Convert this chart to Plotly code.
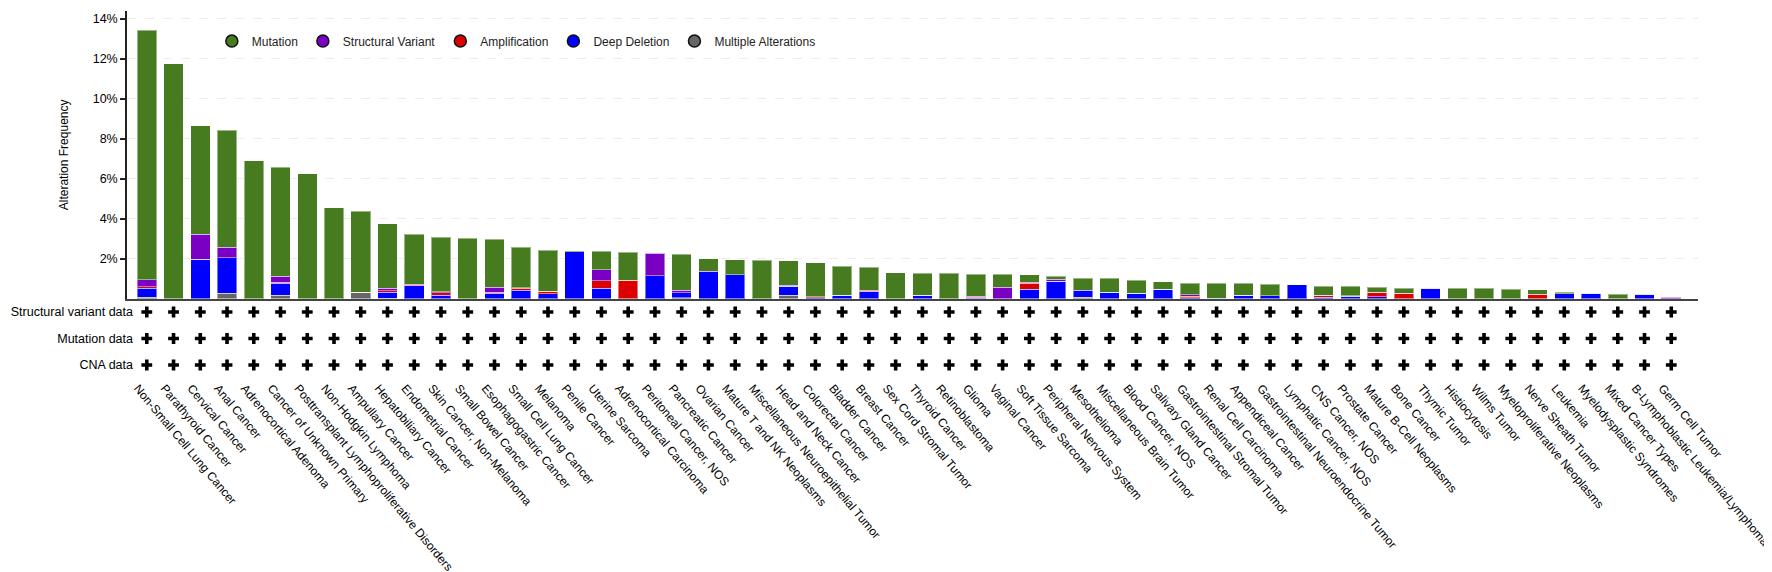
import plotly.graph_objects as go

cancer_types = [
    "Non-Small Cell Lung Cancer", "Parathyroid Cancer", "Cervical Cancer", "Anal Cancer",
    "Adrenocortical Adenoma", "Cancer of Unknown Primary",
    "Posttransplant Lymphoproliferative Disorders", "Non-Hodgkin Lymphoma",
    "Ampullary Cancer", "Hepatobiliary Cancer", "Endometrial Cancer",
    "Skin Cancer, Non-Melanoma", "Small Bowel Cancer", "Esophagogastric Cancer",
    "Small Cell Lung Cancer", "Melanoma", "Penile Cancer", "Uterine Sarcoma",
    "Adrenocortical Carcinoma", "Peritoneal Cancer, NOS", "Pancreatic Cancer",
    "Ovarian Cancer", "Mature T and NK Neoplasms", "Miscellaneous Neuroepithelial Tumor",
    "Head and Neck Cancer", "Colorectal Cancer", "Bladder Cancer", "Breast Cancer",
    "Sex Cord Stromal Tumor", "Thyroid Cancer", "Retinoblastoma", "Glioma",
    "Vaginal Cancer", "Soft Tissue Sarcoma", "Peripheral Nervous System",
    "Mesothelioma", "Miscellaneous Brain Tumor", "Blood Cancer, NOS",
    "Salivary Gland Cancer", "Gastrointestinal Stromal Tumor", "Renal Cell Carcinoma",
    "Appendiceal Cancer", "Gastrointestinal Neuroendocrine Tumor",
    "Lymphatic Cancer, NOS", "CNS Cancer, NOS", "Prostate Cancer",
    "Mature B-Cell Neoplasms", "Bone Cancer", "Thymic Tumor", "Histiocytosis",
    "Wilms Tumor", "Myeloproliferative Neoplasms", "Nerve Sheath Tumor", "Leukemia",
    "Myelodysplastic Syndromes", "Mixed Cancer Types",
    "B-Lymphoblastic Leukemia/Lymphoma", "Germ Cell Tumor",
]

# alteration frequency (%) per cancer type
mutation = [12.48, 11.75, 5.42, 5.85, 6.90, 5.45, 6.25, 4.55, 4.05, 3.22,
            2.50, 2.73, 3.03, 2.39, 2.02, 2.04, 0.02, 0.92, 1.39, 0.00,
            1.79, 0.62, 0.75, 1.93, 1.22, 1.70, 1.44, 1.14, 1.30, 1.10,
            1.28, 1.10, 0.64, 0.38, 0.14, 0.60, 0.69, 0.64, 0.37, 0.58,
            0.74, 0.60, 0.58, 0.00, 0.44, 0.47, 0.26, 0.26, 0.00, 0.53,
            0.52, 0.48, 0.22, 0.08, 0.00, 0.23, 0.00, 0.03]
structural_variant = [0.35, 0.00, 1.25, 0.53, 0.00, 0.30, 0.00, 0.00, 0.00, 0.13,
                      0.05, 0.06, 0.00, 0.25, 0.02, 0.00, 0.00, 0.55, 0.00, 1.13,
                      0.13, 0.03, 0.00, 0.00, 0.06, 0.00, 0.00, 0.05, 0.00, 0.00,
                      0.00, 0.05, 0.58, 0.05, 0.11, 0.03, 0.00, 0.00, 0.00, 0.07,
                      0.00, 0.00, 0.00, 0.00, 0.00, 0.03, 0.00, 0.00, 0.00, 0.00,
                      0.00, 0.00, 0.00, 0.00, 0.00, 0.00, 0.00, 0.08]
amplification = [0.07, 0.00, 0.00, 0.00, 0.00, 0.06, 0.00, 0.00, 0.00, 0.07,
                 0.03, 0.12, 0.00, 0.05, 0.10, 0.13, 0.00, 0.38, 0.93, 0.00,
                 0.00, 0.00, 0.00, 0.00, 0.00, 0.05, 0.00, 0.03, 0.00, 0.00,
                 0.00, 0.05, 0.00, 0.30, 0.00, 0.00, 0.00, 0.00, 0.00, 0.09,
                 0.00, 0.00, 0.00, 0.00, 0.11, 0.00, 0.22, 0.27, 0.00, 0.00,
                 0.00, 0.00, 0.23, 0.00, 0.00, 0.00, 0.00, 0.00]
deep_deletion = [0.45, 0.00, 1.98, 1.77, 0.00, 0.60, 0.00, 0.00, 0.00, 0.30,
                 0.65, 0.17, 0.00, 0.28, 0.43, 0.25, 2.36, 0.52, 0.00, 1.15,
                 0.25, 1.35, 1.20, 0.00, 0.45, 0.05, 0.18, 0.35, 0.00, 0.18,
                 0.00, 0.03, 0.00, 0.47, 0.87, 0.33, 0.33, 0.28, 0.48, 0.04,
                 0.03, 0.17, 0.15, 0.69, 0.07, 0.12, 0.10, 0.00, 0.52, 0.00,
                 0.00, 0.00, 0.00, 0.25, 0.27, 0.00, 0.23, 0.00]
multiple = [0.08, 0.00, 0.00, 0.28, 0.00, 0.17, 0.00, 0.00, 0.32, 0.03,
            0.00, 0.00, 0.00, 0.00, 0.00, 0.00, 0.00, 0.00, 0.00, 0.00,
            0.05, 0.00, 0.00, 0.00, 0.17, 0.00, 0.00, 0.00, 0.00, 0.00,
            0.00, 0.00, 0.00, 0.00, 0.00, 0.07, 0.00, 0.00, 0.00, 0.00,
            0.00, 0.00, 0.00, 0.00, 0.00, 0.00, 0.00, 0.00, 0.00, 0.00,
            0.00, 0.00, 0.00, 0.00, 0.00, 0.00, 0.00, 0.00]

# profiled data rows (1 = profiled)
profile_rows = ["CNA data", "Mutation data", "Structural variant data"]
cna_profiled = [1, 1, 1, 1, 1, 1, 1, 1, 1, 1, 1, 1, 1, 1, 1, 1, 1, 1, 1, 1,
                1, 1, 1, 1, 1, 1, 1, 1, 1, 1, 1, 1, 1, 1, 1, 1, 1, 1, 1, 1,
                1, 1, 1, 1, 1, 1, 1, 1, 1, 1, 1, 1, 1, 1, 1, 1, 1, 1]
mutation_profiled = [1, 1, 1, 1, 1, 1, 1, 1, 1, 1, 1, 1, 1, 1, 1, 1, 1, 1, 1, 1,
                     1, 1, 1, 1, 1, 1, 1, 1, 1, 1, 1, 1, 1, 1, 1, 1, 1, 1, 1, 1,
                     1, 1, 1, 1, 1, 1, 1, 1, 1, 1, 1, 1, 1, 1, 1, 1, 1, 1]
sv_profiled = [1, 1, 1, 1, 1, 1, 1, 1, 1, 1, 1, 1, 1, 1, 1, 1, 1, 1, 1, 1,
               1, 1, 1, 1, 1, 1, 1, 1, 1, 1, 1, 1, 1, 1, 1, 1, 1, 1, 1, 1,
               1, 1, 1, 1, 1, 1, 1, 1, 1, 1, 1, 1, 1, 1, 1, 1, 1, 1]

FONT = "Liberation Sans, Arial, sans-serif"

# stacked bottom -> top
series = [
    ("Multiple Alterations", multiple, "#666666"),
    ("Deep Deletion", deep_deletion, "#0000ff"),
    ("Amplification", amplification, "#dd0000"),
    ("Structural Variant", structural_variant, "#7a00c4"),
    ("Mutation", mutation, "#467c1f"),
]
legend_order = ["Mutation", "Structural Variant", "Amplification", "Deep Deletion",
                "Multiple Alterations"]

fig = go.Figure()

for name, vals, color in series:
    fig.add_trace(go.Bar(
        x=cancer_types, y=vals, name=name, width=0.73,
        marker=dict(color=color, line=dict(color="rgba(255,255,255,0.45)", width=1)),
        showlegend=False, xaxis="x", yaxis="y",
        hovertemplate="%{x}<br>" + name + ": %{y:.2f}%<extra></extra>",
    ))

# legend entries drawn as circles
colors = {n: c for n, _, c in series}
for i, name in enumerate(legend_order):
    fig.add_trace(go.Scatter(
        x=[None], y=[None], mode="markers", name=name,
        marker=dict(symbol="circle", size=12, color=colors[name],
                    line=dict(color="#111111", width=1.5)),
        legendrank=i, xaxis="x", yaxis="y",
    ))

# profiled-data plus markers
for row, flags in zip(profile_rows, [cna_profiled, mutation_profiled, sv_profiled]):
    xs = [c for c, f in zip(cancer_types, flags) if f]
    fig.add_trace(go.Scatter(
        x=xs, y=[row] * len(xs), mode="markers", showlegend=False,
        marker=dict(symbol="cross", size=9, color="black"),
        xaxis="x2", yaxis="y2", hoverinfo="skip",
    ))

fig.update_layout(
    width=1772, height=572,
    margin=dict(l=119, r=82, t=3, b=202),
    barmode="stack",
    plot_bgcolor="white", paper_bgcolor="white",
    font=dict(family=FONT, size=12, color="black"),
    showlegend=True,
    legend=dict(orientation="h", x=0.054, y=0.918, xanchor="left", yanchor="middle",
                font=dict(size=12, color="#222222"), bgcolor="rgba(0,0,0,0)",
                traceorder="normal"),
    xaxis=dict(type="category", categoryorder="array", categoryarray=cancer_types,
               range=[-0.74, 58.0], anchor="y", showticklabels=False,
               showline=True, linecolor="#444444", linewidth=1.5, ticks="",
               showgrid=False, zeroline=False),
    yaxis=dict(domain=[0.216, 1], range=[0, 14.4], anchor="x",
               tickvals=[2, 4, 6, 8, 10, 12, 14],
               ticktext=["2%", "4%", "6%", "8%", "10%", "12%", "14%"],
               ticks="outside", ticklen=5, tickwidth=1.5, tickcolor="#222222",
               showline=True, linecolor="#222222", linewidth=1.5,
               showgrid=True, gridcolor="#ececec", griddash="dash", gridwidth=1,
               zeroline=False, tickfont=dict(size=12.5),
               title=dict(text="Alteration Frequency", font=dict(size=12), standoff=22)),
    xaxis2=dict(type="category", categoryorder="array", categoryarray=cancer_types,
                matches="x", anchor="y2", showline=False, ticks="",
                showgrid=False, zeroline=False, tickangle=50,
                ticklabelshift=-9, tickfont=dict(size=12)),
    yaxis2=dict(domain=[0, 0.2], type="category", categoryorder="array",
                categoryarray=profile_rows, range=[-0.49, 2.28], anchor="x2",
                showline=False, showgrid=False, zeroline=False, ticks="",
                ticklabelstandoff=-7, tickfont=dict(size=12.5)),
)

fig.write_html("out.html")
